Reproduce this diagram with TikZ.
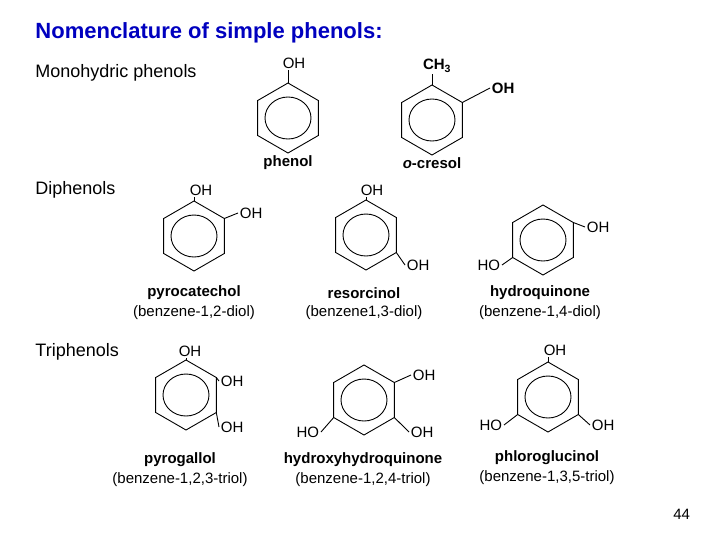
\documentclass[tikz,border=0pt]{standalone}
\usepackage{fontspec}
\setmainfont{Liberation Sans}
\begin{document}
\begin{tikzpicture}[x=1pt,y=-1pt,line width=0.9pt,
  lab/.style={font=\fontsize{15}{17}\selectfont,inner sep=1.5pt},
  blab/.style={font=\fontsize{15}{17}\selectfont\bfseries,inner sep=1.5pt},
  grp/.style={font=\fontsize{18}{20}\selectfont,anchor=west,inner sep=0pt}]
\useasboundingbox (0,0) rectangle (728,546);
\newcommand\ring[3]{%
  \coordinate (#1) at (#2,#3);
  \foreach \k/\a in {1/-90,2/-30,3/30,4/90,5/150,6/210}{\coordinate (#1-\k) at ($(#1)+(\a:35)$);}
  \draw (#1-1)--(#1-2)--(#1-3)--(#1-4)--(#1-5)--(#1-6)--cycle;
  \draw (#1) ellipse [x radius=23, y radius=21];}
\usetikzlibrary{calc}
\node[anchor=west,inner sep=0pt,text=blue!75!black,font=\fontsize{22}{24}\selectfont\bfseries] (title) at (35,33) {Nomenclature of simple phenols:};
\node[grp] (g1) at (35,73) {Monohydric phenols};
\node[grp] (g2) at (35,190) {Diphenols};
\node[grp] (g3) at (35,352) {Triphenols};
\node[lab,anchor=east] (pg) at (692,514) {44};
% phenol
\ring{a}{288}{118}
\node[lab] (a1) at (294,63) {OH};
\draw (a-1) -- (a-1 |- a1.south);
\node[blab] (an) at (288,163) {phenol};
% o-cresol
\ring{b}{432}{120}
\node[blab] (b1) at (437,66) {CH\textsubscript{3}};
\draw (b-1) -- (b-1 |- b1.south);
\node[blab,anchor=west] (b2) at (490,88) {OH};
\draw (b-2) -- (b2.west);
\node[blab] (bn) at (432,163) {\textit{o}-cresol};
% pyrocatechol
\ring{c}{194}{236}
\node[lab] (c1) at (201,190) {OH};
\draw (c-1) -- (c-1 |- c1.south);
\node[lab,anchor=west] (c2) at (238,213) {OH};
\draw (c-2) -- (c2.west);
\node[blab] (cn) at (194,293) {pyrocatechol};
\node[lab] (cn2) at (194,313) {(benzene-1,2-diol)};
% resorcinol
\ring{d}{366}{235}
\node[lab] (d1) at (372,190) {OH};
\draw (d-1) -- (d-1 |- d1.south);
\node[lab,anchor=west] (d2) at (405,265) {OH};
\draw (d-3) -- (d2.west);
\node[blab] (dn) at (364,293) {resorcinol};
\node[lab] (dn2) at (364,313) {(benzene1,3-diol)};
% hydroquinone
\ring{e}{543}{240}
\node[lab,anchor=west] (e1) at (585,227) {OH};
\draw (e-2) -- (e1.west);
\node[lab,anchor=east] (e2) at (502,265) {HO};
\draw (e-5) -- (e2.east);
\node[blab] (en) at (540,293) {hydroquinone};
\node[lab] (en2) at (540,313) {(benzene-1,4-diol)};
% pyrogallol
\ring{f}{186}{395}
\node[lab] (f1) at (190,351) {OH};
\draw (f-1) -- (f-1 |- f1.south);
\node[lab,anchor=west] (f2) at (219,381) {OH};
\draw (f-2) -- (f2.west);
\node[lab,anchor=west] (f3) at (219,427) {OH};
\draw (f-3) -- (f3.west);
\node[blab] (fn) at (180,460) {pyrogallol};
\node[lab] (fn2) at (180,480) {(benzene-1,2,3-triol)};
% hydroxyhydroquinone
\ring{h}{364}{400}
\node[lab,anchor=west] (h1) at (411,375) {OH};
\draw (h-2) -- (h1.west);
\node[lab,anchor=west] (h2) at (409,432) {OH};
\draw (h-3) -- (h2.west);
\node[lab,anchor=east] (h3) at (321,432) {HO};
\draw (h-5) -- (h3.east);
\node[blab] (hn) at (363,460) {hydroxyhydroquinone};
\node[lab] (hn2) at (363,480) {(benzene-1,2,4-triol)};
% phloroglucinol
\ring{k}{548}{397}
\node[lab] (k1) at (555,350) {OH};
\draw (k-1) -- (k-1 |- k1.south);
\node[lab,anchor=east] (k2) at (504,425) {HO};
\draw (k-5) -- (k2.east);
\node[lab,anchor=west] (k3) at (590,425) {OH};
\draw (k-3) -- (k3.west);
\node[blab] (kn) at (547,458) {phloroglucinol};
\node[lab] (kn2) at (547,478) {(benzene-1,3,5-triol)};
\end{tikzpicture}
\end{document}
